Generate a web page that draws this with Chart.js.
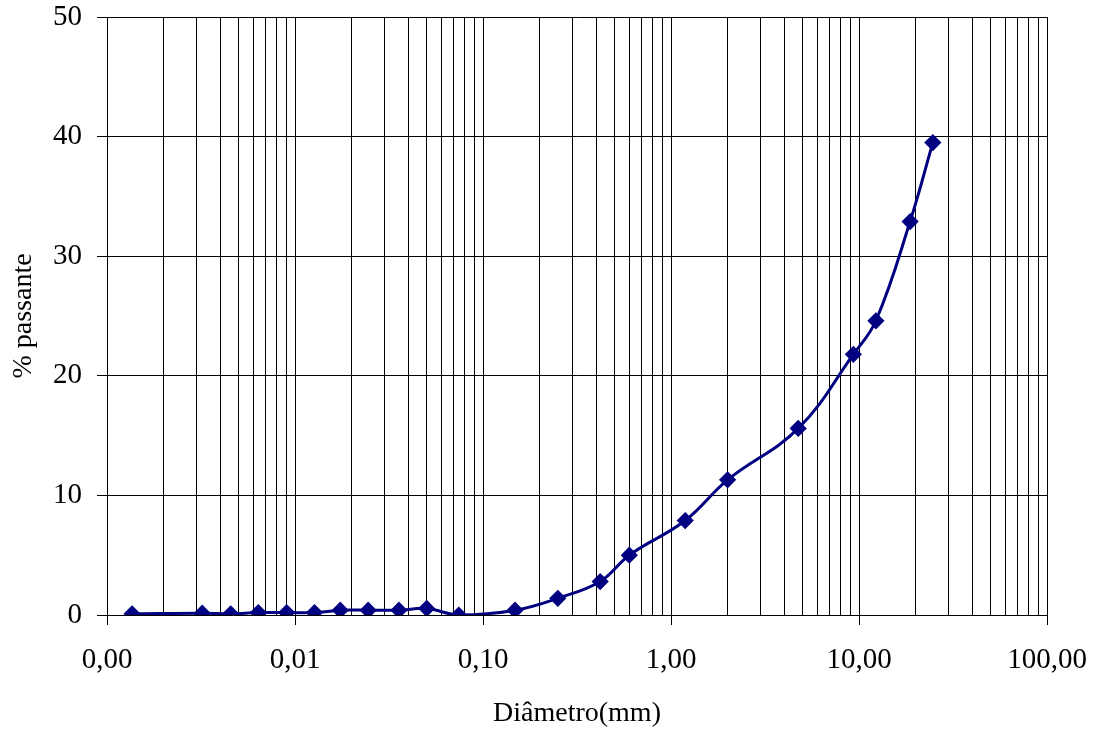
<!DOCTYPE html>
<html>
<head>
<meta charset="utf-8">
<script src="https://cdn.jsdelivr.net/npm/chart.js@4/dist/chart.umd.min.js"></script>
<style>
  html, body { margin: 0; padding: 0; background: #fff; }
  #wrap { width: 1096px; height: 730px; }
</style>
</head>
<body>
<div id="wrap"><canvas id="granulometria"></canvas></div>
<script>
// curva granulométrica: diâmetro (mm) x % passante
var diametro = [0.00136, 0.00321, 0.00455, 0.00638, 0.00903, 0.0127, 0.0174, 0.0245, 0.0357, 0.0502,
                0.0743, 0.148, 0.25, 0.42, 0.6, 1.19, 2.0, 4.75, 9.33, 12.3, 18.7, 24.7];
var passante = [0.1, 0.15, 0.1, 0.2, 0.2, 0.2, 0.4, 0.4, 0.4, 0.55,
                0.0, 0.4, 1.4, 2.8, 5.0, 7.9, 11.3, 15.6, 21.8, 24.6, 32.9, 39.5];
var decadas = [0.001, 0.01, 0.1, 1, 10, 100];
var yTicks = [0, 10, 20, 30, 40, 50];

var pontos = diametro.map(function(d, i) {
    return { x: d, y: passante[i] };
});

function ehDecada(v) {
    return decadas.some(function(d) { return Math.abs(v / d - 1) < 1e-6; });
}

var serif = "'Liberation Serif', 'Times New Roman', serif";
var fonteTicks = { family: serif, size: 29 };
var fonteTitulo = { family: serif, size: 28 };

var ctx = document.getElementById('granulometria').getContext('2d');
var chart = new Chart(ctx, {
    type: 'scatter',
    data: {
        datasets: [{
            data: pontos,
            showLine: true,
            borderColor: '#000080',
            backgroundColor: '#000080',
            borderWidth: 3,
            tension: 0.4,
            pointStyle: 'rectRot',
            pointRadius: 6.5,
            pointHoverRadius: 6.5
        }]
    },
    options: {
        responsive: true,
        maintainAspectRatio: false,
        animation: false,
        layout: { padding: { top: 17, right: 49, left: 0, bottom: 0 } },
        plugins: { legend: { display: false }, tooltip: { enabled: false } },
        scales: {
            x: {
                type: 'logarithmic',
                min: 0.001,
                max: 100,
                afterBuildTicks: function(scale) {
                    var t = [];
                    for (var e = -3; e <= 2; e++) {
                        for (var m = 1; m <= 9; m++) {
                            var v = m * Math.pow(10, e);
                            if (v > 100.0001) break;
                            t.push({ value: v });
                        }
                    }
                    scale.ticks = t;
                },
                afterFit: function(scale) {
                    scale.height = 115;
                    scale.paddingLeft = 0;
                    scale.paddingRight = 0;
                },
                grid: {
                    color: '#000',
                    lineWidth: 1,
                    tickLength: 10,
                    tickColor: function(c) {
                        return c.tick && ehDecada(c.tick.value) ? '#000' : 'rgba(0,0,0,0)';
                    }
                },
                border: { color: '#000', width: 1 },
                ticks: {
                    autoSkip: false,
                    maxRotation: 0,
                    padding: 18,
                    color: '#000',
                    font: fonteTicks,
                    callback: function(v) {
                        return ehDecada(v) ? v.toFixed(2).replace('.', ',') : '';
                    }
                },
                title: {
                    display: true,
                    text: 'Diâmetro(mm)',
                    color: '#000',
                    font: fonteTitulo,
                    padding: { top: 0, bottom: 0 }
                }
            },
            y: {
                min: 0,
                max: 50,
                afterBuildTicks: function(scale) {
                    scale.ticks = yTicks.map(function(v) { return { value: v }; });
                },
                afterFit: function(scale) {
                    scale.width = 107;
                    scale.paddingTop = 0;
                    scale.paddingBottom = 0;
                },
                grid: { color: '#000', lineWidth: 1, tickLength: 10, tickColor: '#000' },
                border: { color: '#000', width: 1 },
                ticks: {
                    padding: 15,
                    color: '#000',
                    font: fonteTicks
                },
                title: {
                    display: true,
                    text: '% passante',
                    color: '#000',
                    font: fonteTitulo,
                    padding: { top: 7, bottom: 0 }
                }
            }
        }
    }
});
</script>
</body>
</html>
